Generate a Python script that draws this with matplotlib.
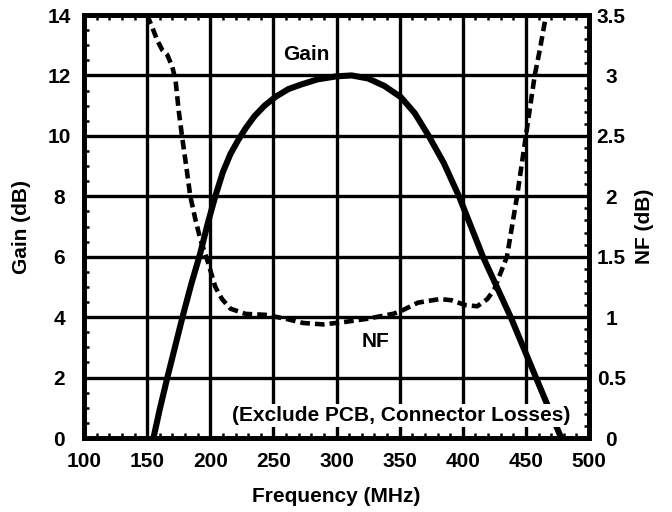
import matplotlib
matplotlib.use("Agg")
import matplotlib.pyplot as plt
from matplotlib.ticker import MultipleLocator

plt.rcParams["font.family"] = ["Liberation Sans", "DejaVu Sans"]
plt.rcParams["font.weight"] = "bold"

# gain curve (left axis, dB)
gain_freq = [155, 160, 166, 172, 178, 185, 192, 198, 204, 210, 216, 222, 228,
             235, 243, 252, 262, 272, 285, 300, 312, 325, 338, 351, 362, 373,
             385, 397, 407, 416, 427, 438, 448, 458, 468, 478]
gain_db = [0.0, 0.95, 2.0, 3.0, 4.0, 5.1, 6.1, 7.1, 8.0, 8.8, 9.4, 9.85, 10.25,
           10.65, 11.0, 11.3, 11.55, 11.7, 11.87, 11.97, 12.0, 11.9, 11.65, 11.28,
           10.75, 10.0, 9.1, 8.0, 6.95, 6.0, 5.0, 4.0, 3.0, 2.0, 1.0, 0.0]

# noise figure curve (right axis, dB)
nf_freq = [150, 154, 158, 162, 166, 170, 172.5, 175, 177.6, 180.3, 184.2, 188.2,
           192, 197.4, 201.3, 204, 209.3, 216, 228, 244, 260, 273.5, 289.4, 305,
           324, 345, 351, 364.5, 382, 391, 402, 411.5, 419.5, 425, 429, 435,
           443, 450, 457, 461, 466]
nf_db = [3.5, 3.4, 3.29, 3.21, 3.17, 3.07, 2.96, 2.71, 2.5, 2.3, 2.0, 1.81,
         1.65, 1.48, 1.345, 1.25, 1.15, 1.07, 1.027, 1.019, 0.986, 0.952, 0.94,
         0.958, 0.986, 1.028, 1.05, 1.12, 1.15, 1.14, 1.10, 1.09, 1.15, 1.23,
         1.34, 1.5, 2.0, 2.5, 3.0, 3.21, 3.5]

x_ticks = [100, 150, 200, 250, 300, 350, 400, 450, 500]
gain_ticks = [0, 2, 4, 6, 8, 10, 12, 14]
nf_ticks = [0, 0.5, 1, 1.5, 2, 2.5, 3, 3.5]
nf_ticklabels = ["0", "0.5", "1", "1.5", "2", "2.5", "3", "3.5"]

fig = plt.figure(figsize=(6.72, 5.12), dpi=100)
ax = fig.add_axes([0.125, 0.1445, 0.7515, 0.8262])
ax2 = ax.twinx()

ax.plot(gain_freq, gain_db, color="black", lw=4.4, solid_capstyle="butt")
ax2.plot(nf_freq, nf_db, color="black", lw=3.3, dashes=(2.1, 1.1),
         dash_capstyle="butt")

ax.set_xlim(100, 500)
ax.set_ylim(0, 14)
ax2.set_ylim(0, 3.5)

ax.set_xticks(x_ticks)
ax.set_yticks(gain_ticks)
ax2.set_yticks(nf_ticks)
ax2.set_yticklabels(nf_ticklabels)
ax.xaxis.set_minor_locator(MultipleLocator(10))
ax.yaxis.set_minor_locator(MultipleLocator(0.5))
ax2.yaxis.set_minor_locator(MultipleLocator(0.1))

ax.grid(True, which="major", color="black", lw=2.4)

ax.tick_params(which="major", length=0, labelsize=15)
ax.tick_params(axis="x", which="major", pad=10)
ax.tick_params(axis="y", which="major", pad=18)
ax.tick_params(which="minor", direction="in", length=3.5, width=1.8,
               top=True, bottom=True)
ax2.tick_params(which="major", length=0, labelsize=15, pad=16)
ax2.tick_params(which="minor", direction="in", length=3.5, width=1.8)
for lab in ax.get_yticklabels():
    lab.set_horizontalalignment("center")
for lab in ax2.get_yticklabels():
    lab.set_horizontalalignment("center")

for a in (ax, ax2):
    for sp in a.spines.values():
        sp.set_linewidth(3.4)

ax.set_xlabel("Frequency (MHz)", fontsize=15, fontweight="bold", va="center")
ax.xaxis.set_label_coords(0.5, -0.139)
ax.set_ylabel("Gain (dB)", fontsize=15, fontweight="bold", va="center")
ax.yaxis.set_label_coords(-0.123, 0.5)
ax2.set_ylabel("NF (dB)", fontsize=15, fontweight="bold", va="center",
               rotation=90)
ax2.yaxis.set_label_coords(1.11, 0.5)

ax.text(276, 12.68, "Gain", fontsize=15, fontweight="bold",
        ha="center", va="center")
ax.text(331, 3.19, "NF", fontsize=15, fontweight="bold",
        ha="center", va="center")
ax2.text(351, 0.74, "(Exclude PCB, Connector Losses)", transform=ax.transData,
         fontsize=15, fontweight="bold", ha="center", va="center", zorder=10,
         bbox=dict(boxstyle="square,pad=0.1", fc="white", ec="none"))

fig.savefig("out.png", dpi=100)
